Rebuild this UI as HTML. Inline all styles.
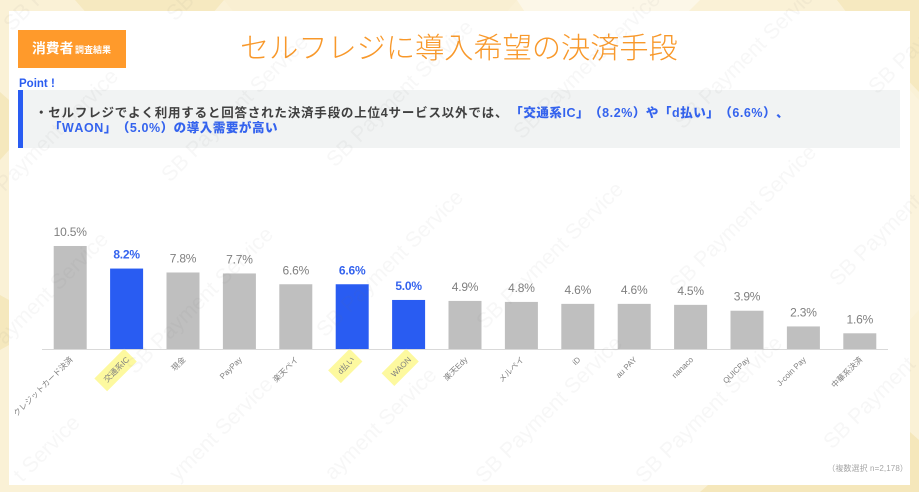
<!DOCTYPE html>
<html lang="ja">
<head>
<meta charset="utf-8">
<title>セルフレジに導入希望の決済手段</title>
<style>
html,body{margin:0;padding:0;width:919px;height:492px;overflow:hidden;background:#faf1d6}
body{position:relative;font-family:"Liberation Sans","Noto Sans CJK JP",sans-serif}
#stage{position:absolute;left:0;top:0;width:919px;height:492px;overflow:hidden}
.abs{position:absolute}
#panel{left:9px;top:11px;width:901px;height:474px;background:#fff}
#badge{left:18px;top:30px;width:108px;height:38px;background:#ff9a2b;color:#fff;font-weight:700;line-height:38px;white-space:nowrap}
#badge .big{position:absolute;left:14px;top:0;font-size:13.8px}
#badge .small{position:absolute;left:57px;top:1px;font-size:9px}
#title{left:240px;top:28px;width:460px;font-size:29.2px;line-height:42px;color:#f8982a;font-weight:300;white-space:nowrap}
#point{left:19px;top:77px;font-size:11.5px;line-height:15px;font-weight:700;color:#2a5cf0;white-space:nowrap}
#box{left:18px;top:90px;width:882px;height:58px;background:#f1f3f3}
#box-bar{left:18px;top:90px;width:5px;height:58px;background:#295cf2}
.line{font-size:12.5px;line-height:16px;font-weight:700;color:#404040;white-space:nowrap;letter-spacing:.8px;text-spacing-trim:space-all;font-kerning:none}
.line b{color:#3463ee;letter-spacing:.55px}
#line1 b{margin-left:2px}
#line1{left:35px;top:105px}
#line2{left:49px;top:120px}
#note{right:11px;top:463px;font-size:8px;line-height:12px;color:#a6a6a6;white-space:nowrap;letter-spacing:.1px}
svg{position:absolute;left:0;top:0}
</style>
</head>
<body>
<div id="stage">
  <svg width="919" height="492">
    <rect width="919" height="492" fill="#faf1d6"/>
    <polygon points="75,0 224,0 190,40 110,40" fill="#f6e9c0"/>
    <polygon points="224,0 517,0 500,20 240,20" fill="#f9efd2"/>
    <polygon points="517,0 700,0 680,20 530,20" fill="#fcf7e8"/>
    <polygon points="837,0 919,0 919,92 860,30" fill="#f6e9c0"/>
    <polygon points="0,92 9,100 9,150 0,160" fill="#f5e8bd"/>
    <polygon points="0,295 9,300 9,345 0,350" fill="#f5e8bd"/>
    <polygon points="910,90 919,100 919,310 910,320" fill="#fbf3dc"/>
    <polygon points="919,440 919,492 700,492 708,485 910,485 910,432" fill="#f5e7bb"/>
  </svg>
  <div id="panel" class="abs"></div>
  <div id="badge" class="abs"><span class="big">消費者</span><span class="small">調査結果</span></div>
  <div id="title" class="abs">セルフレジに導入希望の決済手段</div>
  <div id="point" class="abs">Point !</div>
  <div id="box" class="abs"></div>
  <div id="box-bar" class="abs"></div>
  <div id="line1" class="abs line">・セルフレジでよく利用すると回答された決済手段の上位4サービス以外では、<b>「交通系IC」（8.2%）や「d払い」（6.6%）、</b></div>
  <div id="line2" class="abs line"><b>「WAON」（5.0%）の導入需要が高い</b></div>
  <svg id="chart" width="919" height="492"></svg>
  <div id="note" class="abs">（複数選択 n=2,178）</div>
  <svg width="919" height="492" style="pointer-events:none;overflow:hidden">
    <g font-family="Liberation Sans, sans-serif" font-size="21.5" fill="#777" fill-opacity="0.06">
      <text transform="translate(12,32) rotate(-45)">SB Pay</text>
      <text transform="translate(175,22) rotate(-45)">SB</text>
      <text transform="translate(-20,217) rotate(-45)">SB Payment Service</text>
      <text transform="translate(170,183) rotate(-45)">SB Payment Service</text>
      <text transform="translate(335,168) rotate(-45)">SB Payment Service</text>
      <text transform="translate(522,140) rotate(-45)">SB Payment Service</text>
      <text transform="translate(683,130) rotate(-45)">SB Payment Service</text>
      <text transform="translate(877,95) rotate(-45)">SB Pay</text>
      <text transform="translate(-30,380) rotate(-45)">SB Payment Service</text>
      <text transform="translate(135,375) rotate(-45)">SB Payment Service</text>
      <text transform="translate(325,338) rotate(-45)">SB Payment Service</text>
      <text transform="translate(485,330) rotate(-45)">SB Payment Service</text>
      <text transform="translate(678,293) rotate(-45)">SB Payment Service</text>
      <text transform="translate(838,287) rotate(-45)">SB Payment</text>
      <text transform="translate(22,483) rotate(-45)">t Service</text>
      <text transform="translate(178,482) rotate(-45)">yment Service</text>
      <text transform="translate(333,481) rotate(-45)">ayment Service</text>
      <text transform="translate(484,484) rotate(-45)">SB Payment Service</text>
      <text transform="translate(644,484) rotate(-45)">SB Payment Service</text>
      <text transform="translate(832,450) rotate(-45)">SB Payment</text>
    </g>
  </svg>
</div>
<script>
const categories = ["クレジットカード決済","交通系IC","現金","PayPay","楽天ペイ","d払い","WAON","楽天Edy","メルペイ","iD","au PAY","nanaco","QUICPay","J-coin Pay","中華系決済"];
const seriesValues = [10.5,8.2,7.8,7.7,6.6,6.6,5.0,4.9,4.8,4.6,4.6,4.5,3.9,2.3,1.6];
const valueLabels = ["10.5%","8.2%","7.8%","7.7%","6.6%","6.6%","5.0%","4.9%","4.8%","4.6%","4.6%","4.5%","3.9%","2.3%","1.6%"];
const highlighted = ["交通系IC","d払い","WAON"];

const NS = "http://www.w3.org/2000/svg";
const svg = document.getElementById("chart");
const plot = {left: 42, right: 888, baseline: 349, perUnit: 9.81, barWidth: 33};
const band = (plot.right - plot.left) / categories.length;
function xAxis(i) { return plot.left + (i + 0.5) * band; }
function yAxis(v) { return plot.baseline - v * plot.perUnit; }
function make(tag, attrs, parent) {
  const el = document.createElementNS(NS, tag);
  for (const k in attrs) el.setAttribute(k, attrs[k]);
  parent.appendChild(el);
  return el;
}
const fontStack = '"Liberation Sans","Noto Sans CJK JP",sans-serif';

categories.forEach(function (name, i) {
  const isHi = highlighted.includes(name);
  const cx = xAxis(i);
  const bar = make("rect", {x: cx - plot.barWidth / 2, y: yAxis(seriesValues[i]), width: plot.barWidth, height: plot.baseline - yAxis(seriesValues[i]), fill: isHi ? "#295cf2" : "#bfbfbf"}, svg);
  
  

  const val = make("text", {x: cx, y: yAxis(seriesValues[i]) - 10, "text-anchor": "middle", "font-family": fontStack, "font-size": 12, "letter-spacing": "-0.2", "font-weight": isHi ? 700 : 400, fill: isHi ? "#3463ee" : "#7f7f7f"}, svg);
  val.textContent = valueLabels[i];
  
  

  const g = make("g", {transform: "translate(" + (cx + 1) + " 358) rotate(-45)"}, svg);
  
  
  const hl = isHi ? make("rect", {fill: "#fdf99f", y: -9, height: 18}, g) : null;
  const t = make("text", {x: 0, y: 3, "text-anchor": "end", "font-family": fontStack, "font-size": 8, fill: "#808080"}, g);
  t.textContent = name;
  
  
  if (hl) {
    const len = t.getComputedTextLength();
    hl.setAttribute("x", -(len + 6));
    hl.setAttribute("width", len + 10);
    
    
  }
});

const axis = make("line", {x1: plot.left, x2: plot.right, y1: plot.baseline + 0.5, y2: plot.baseline + 0.5, stroke: "#d9d9d9", "stroke-width": 1}, svg);


</script>
</body>
</html>
